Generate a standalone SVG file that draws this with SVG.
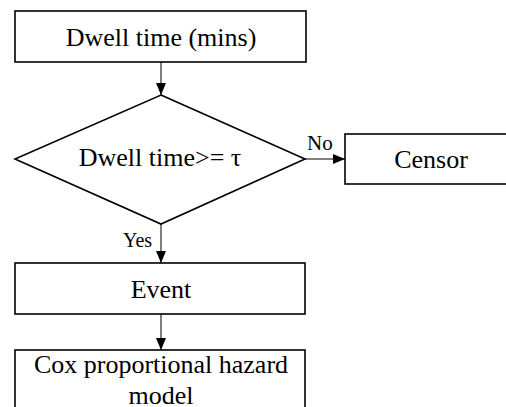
<svg xmlns="http://www.w3.org/2000/svg" width="506" height="407" viewBox="0 0 506 407">
<style>
.box{fill:#fff;stroke:#000;stroke-width:1.6}
.t{font-family:"Liberation Serif","Times New Roman",serif;font-size:26px;fill:#000;text-anchor:middle}
.lbl{font-family:"Liberation Serif","Times New Roman",serif;font-size:20px;fill:#000}
.c{stroke:#000;stroke-width:1;fill:none}
</style>
<defs>
<marker id="ah" markerWidth="12" markerHeight="10" refX="12" refY="5" orient="auto" markerUnits="userSpaceOnUse">
<path d="M0,0 L12,5 L0,10 Z" fill="#000"/>
</marker>
</defs>
<rect width="506" height="407" fill="#fff"/>
<g id="connectors">
<line class="c" x1="161" y1="62" x2="161" y2="95" marker-end="url(#ah)"/>
<line class="c" x1="305" y1="159" x2="345" y2="159" marker-end="url(#ah)"/>
<line class="c" x1="161" y1="224" x2="161" y2="263" marker-end="url(#ah)"/>
<line class="c" x1="161" y1="314" x2="161" y2="350" marker-end="url(#ah)"/>
<text class="lbl" x="307" y="150" style="font-size:21px">No</text>
<text class="lbl" x="123" y="247">Yes</text>
</g>
<g id="start">
<rect class="box" x="15" y="11" width="291" height="51"/>
<text class="t" x="161" y="46">Dwell time (mins)</text>
</g>
<g id="decision">
<polygon class="box" points="161,95 305,159 161,224 15,159"/>
<text class="t" x="160" y="166">Dwell time&gt;= τ</text>
</g>
<g id="censor">
<rect class="box" x="345" y="134" width="175" height="50"/>
<text class="t" x="431" y="168">Censor</text>
</g>
<g id="event">
<rect class="box" x="15" y="263" width="290" height="51"/>
<text class="t" x="161" y="298">Event</text>
</g>
<g id="cox">
<rect class="box" x="15" y="350" width="290" height="70"/>
<text class="t" x="161" y="373">Cox proportional hazard</text>
<text class="t" x="161" y="404">model</text>
</g>
</svg>
